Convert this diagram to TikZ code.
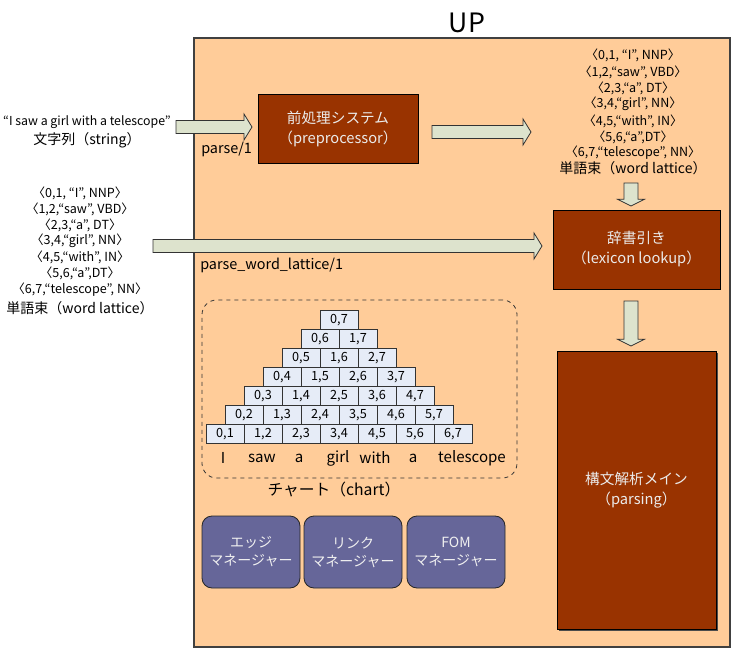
\documentclass[tikz,border=0pt]{standalone}
\usepackage{fontspec}
\setmainfont{Noto Sans CJK JP}
\usetikzlibrary{calc}
\definecolor{bgor}{HTML}{FFCC99}
\definecolor{boxbrown}{HTML}{993300}
\definecolor{arrfill}{HTML}{DDE3CD}
\definecolor{mgrfill}{HTML}{666699}
\definecolor{cellfill}{HTML}{E6ECF7}
\newcommand\harrow[2]{\draw[barrow] let \p1=(#1), \p2=(#2) in (\x1,\y1+4.9pt) -- (\x2-6pt,\y1+4.9pt) -- (\x2-6pt,\y1+9.75pt) -- (\x2,\y1) -- (\x2-6pt,\y1-9.75pt) -- (\x2-6pt,\y1-4.9pt) -- (\x1,\y1-4.9pt) -- cycle;}
\newcommand\varrow[2]{\draw[barrow] let \p1=(#1), \p2=(#2) in (\x1-5.25pt,\y1) -- (\x1-5.25pt,\y2+5pt) -- (\x1-10pt,\y2+5pt) -- (\x1,\y2) -- (\x1+10pt,\y2+5pt) -- (\x1+5.25pt,\y2+5pt) -- (\x1+5.25pt,\y1) -- cycle;}
\begin{document}
\begin{tikzpicture}[x=0.75pt,y=-0.75pt,
  frame/.style={draw=black!75,line width=0.8pt,fill=bgor,minimum width=536*0.75pt,minimum height=609*0.75pt,inner sep=0},
  procbox/.style={draw=black,line width=0.6pt,fill=boxbrown,text=white!92!black,align=center,inner sep=0,font=\fontsize{11}{15}\selectfont},
  mgr/.style={draw=black!85,line width=0.6pt,fill=mgrfill,text=white!94!black,rounded corners=7.5pt,align=center,inner sep=0,minimum width=98*0.75pt,minimum height=72*0.75pt,font=\fontsize{10.5}{13.5}\selectfont},
  cell/.style={draw=black!80,line width=0.5pt,fill=cellfill,minimum width=38*0.75pt,minimum height=19*0.75pt,inner sep=0,font=\fontsize{9.5}{10}\selectfont},
  barrow/.style={fill=arrfill,draw=black!80,line width=0.6pt},
  small/.style={inner sep=0,font=\fontsize{9.4}{10}\selectfont},
  mid/.style={inner sep=0,font=\fontsize{10.5}{12}\selectfont},
  lbl/.style={inner sep=0,font=\fontsize{10.8}{12}\selectfont},
  word/.style={inner sep=0,font=\fontsize{11.3}{12}\selectfont}]
\useasboundingbox (0,0) rectangle (732,649);
% frame
\node[frame] (up) at (462,342.5) {};
\node[inner sep=0,font=\fontsize{20}{22}\selectfont] (uplabel) at (467,23) {UP};
% processing boxes
\node[procbox,minimum width=160*0.75pt,minimum height=69*0.75pt] (pre) at (338,128.5) {前処理システム\\（preprocessor）};
\node[procbox,minimum width=167*0.75pt,minimum height=79*0.75pt] (lex) at (636.5,249.5) {辞書引き\\（lexicon lookup）};
\fill[black!70] (558.5,352.5) rectangle (717.5,630.5);
\node[procbox,minimum width=159*0.75pt,minimum height=278*0.75pt] (parsing) at (636.5,490) {構文解析メイン\\（parsing）};
% input string
\node[small,font=\fontsize{9.25}{10}\selectfont] (str) at (87,122) {“I saw a girl with a telescope”};
\node[mid] (strlab) at (87,140) {文字列（string）};
\node[lbl,anchor=west] (p1) at (201,149) {parse/1};
% left lattice
\node[small] (ll1) at (80,193) {〈0,1, “I”, NNP〉};
\node[small] (ll2) at (80,209) {〈1,2,“saw”, VBD〉};
\node[small] (ll3) at (80,225) {〈2,3,“a”, DT〉};
\node[small] (ll4) at (80,241) {〈3,4,“girl”, NN〉};
\node[small] (ll5) at (80,257) {〈4,5,“with”, IN〉};
\node[small] (ll6) at (80,273) {〈5,6,“a”,DT〉};
\node[small] (ll7) at (80,290) {〈6,7,“telescope”, NN〉};
\node[mid] (lltitle) at (80,308) {単語束（word lattice）};
\node[lbl,anchor=west] (pwl) at (200,265) {parse\_word\_lattice/1};
% right lattice
\node[small] (rl1) at (633,55) {〈0,1, “I”, NNP〉};
\node[small] (rl2) at (633,72) {〈1,2,“saw”, VBD〉};
\node[small] (rl3) at (633,88) {〈2,3,“a”, DT〉};
\node[small] (rl4) at (633,104) {〈3,4,“girl”, NN〉};
\node[small] (rl5) at (633,121) {〈4,5,“with”, IN〉};
\node[small] (rl6) at (633,137) {〈5,6,“a”,DT〉};
\node[small] (rl7) at (633,153) {〈6,7,“telescope”, NN〉};
\node[mid] (rltitle) at (633,168) {単語束（word lattice）};
% block arrows
\coordinate (a1s) at (176,127); \coordinate (a1e) at (252,127);
\coordinate (a2s) at (432,132); \coordinate (a2e) at (531,132);
\coordinate (a3s) at (153,246); \coordinate (a3e) at (542,246);
\coordinate (a4s) at (631,183); \coordinate (a4e) at (631,206);
\coordinate (a5s) at (631,301); \coordinate (a5e) at (631,346);
\harrow{a1s}{a1e}
\harrow{a2s}{a2e}
\harrow{a3s}{a3e}
\varrow{a4s}{a4e}
\varrow{a5s}{a5e}
% chart
\node[draw=black!80,dashed,line width=0.6pt,rounded corners=11pt,minimum width=315*0.75pt,minimum height=178*0.75pt,inner sep=0] (chart) at (359.5,389) {};
\foreach \L in {1,...,7} {
  \pgfmathtruncatemacro\n{7-\L}
  \foreach \i in {0,...,\n} {
    \pgfmathtruncatemacro\j{\i+\L}
    \node[cell] (c\i\j) at ({225+(\L-1)*19+38*\i},{434-(\L-1)*19}) {\i,\j};
  }
}
\node[word] (w1) at (223,458) {I};
\node[word] (w2) at (262,458) {saw};
\node[word] (w3) at (299,458) {a};
\node[word] (w4) at (338,458) {girl};
\node[word] (w5) at (375,458) {with};
\node[word] (w6) at (413,458) {a};
\node[word] (w7) at (472,458) {telescope};
\node[mid,font=\fontsize{11.8}{12}\selectfont] (chartlab) at (334,490) {チャート（chart）};
% managers
\node[mgr] (m1) at (251,552) {エッジ\\マネージャー};
\node[mgr] (m2) at (353,552) {リンク\\マネージャー};
\node[mgr] (m3) at (456,552) {FOM\\マネージャー};
\end{tikzpicture}
\end{document}
